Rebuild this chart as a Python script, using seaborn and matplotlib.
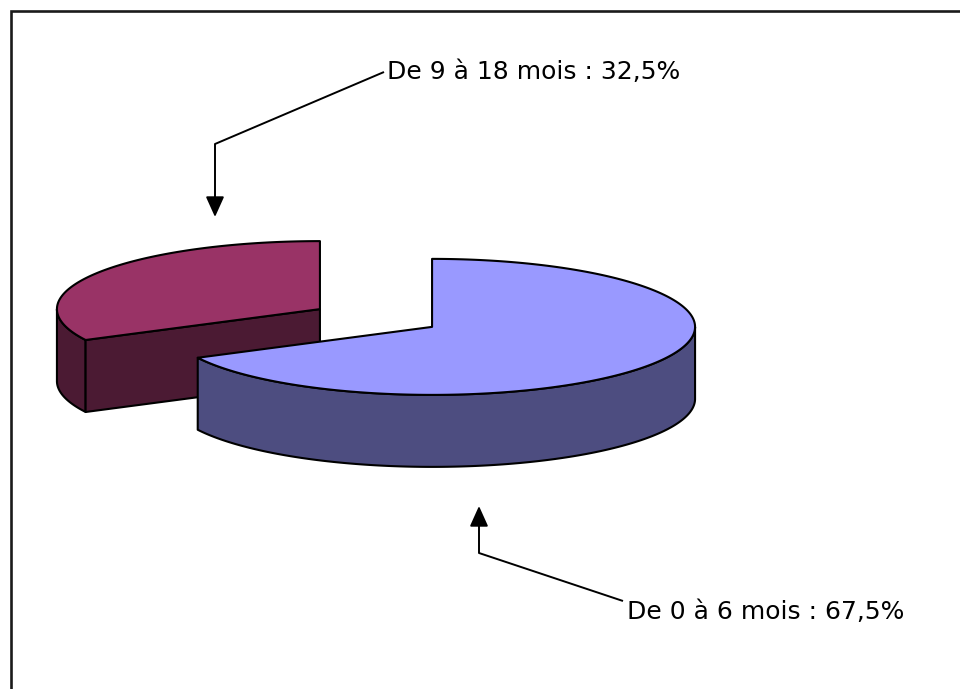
import numpy as np
import matplotlib
matplotlib.use("Agg")
import matplotlib.pyplot as plt
from matplotlib.patches import Polygon, FancyArrowPatch
import seaborn as sns

# Chart data
categories = ["De 0 à 6 mois", "De 9 à 18 mois"]
values = [67.5, 32.5]
label_texts = ["De 0 à 6 mois : 67,5%", "De 9 à 18 mois : 32,5%"]

top_colors = ["#9999FF", "#993366"]
side_colors = ["#4D4D80", "#4B1A33"]

sns.set_theme(style="white")
plt.rcParams["font.family"] = ["DejaVu Sans"]

W, H, DPI = 960, 689, 100
fig = plt.figure(figsize=(W / DPI, H / DPI), dpi=DPI)
ax = fig.add_axes([0, 0, 1, 1])
ax.set_xlim(0, W)
ax.set_ylim(H, 0)
ax.axis("off")

# outer frame (only top and left edges fall inside the canvas)
ax.plot([11, 11, W + 5], [H + 5, 11, 11], color="#1a1a1a", lw=1.9,
        solid_joinstyle="miter", zorder=1)

# 3-D pie geometry (pixel space)
cx, cy = 376, 318        # pie centre
rx, ry = 263, 68         # ellipse radii of the top face
depth = 72               # thickness
explode = 0.25
edge = dict(edgecolor="black", linewidth=1.5, joinstyle="round")


def rim(x0, y0, t, dz=0.0):
    return x0 + rx * np.cos(t), y0 - ry * np.sin(t) + dz


# slices run clockwise from 12 o'clock
total = float(sum(values))
start = np.pi / 2
slices = []
for v in values:
    sweep = 2 * np.pi * v / total
    a_end = start            # counter-clockwise end
    a_start = start - sweep  # counter-clockwise start
    mid = (a_start + a_end) / 2
    ox = cx + explode * rx * np.cos(mid)
    oy = cy - explode * ry * np.sin(mid)
    slices.append((a_start, a_end, ox, oy))
    start -= sweep


def draw_slice(i, zbase):
    a0, a1, ox, oy = slices[i]
    top_c, side_c = top_colors[i], side_colors[i]

    # outer wall: parts of the arc facing the viewer (lower half of ellipse)
    ts = np.linspace(a0, a1, 400)
    front = np.sin(ts) <= 0
    runs, cur = [], []
    for t, f in zip(ts, front):
        if f:
            cur.append(t)
        elif cur:
            runs.append(cur)
            cur = []
    if cur:
        runs.append(cur)
    for run in runs:
        run = np.array(run)
        xt, yt = rim(ox, oy, run)
        xb, yb = rim(ox, oy, run[::-1], depth)
        pts = np.column_stack([np.r_[xt, xb], np.r_[yt, yb]])
        ax.add_patch(Polygon(pts, closed=True, facecolor=side_c, zorder=zbase, **edge))

    # radial cut faces that look toward the viewer
    for a, normal in ((a0, a0 - np.pi / 2), (a1, a1 + np.pi / 2)):
        if np.sin(normal) < -1e-6:
            xr, yr = rim(ox, oy, a)
            pts = [(ox, oy), (xr, yr), (xr, yr + depth), (ox, oy + depth)]
            ax.add_patch(Polygon(pts, closed=True, facecolor=side_c, zorder=zbase + 0.5, **edge))

    # top face
    ts = np.linspace(a0, a1, 400)
    xt, yt = rim(ox, oy, ts)
    pts = np.column_stack([np.r_[ox, xt], np.r_[oy, yt]])
    ax.add_patch(Polygon(pts, closed=True, facecolor=top_c, zorder=zbase + 1, **edge))


# back slice first, then the front one
draw_slice(1, 2)
draw_slice(0, 5)

# callouts: text, leader segment, arrow
callouts = [
    # (text index, text pos, leader start, elbow, arrow tip)
    (1, (387, 79), (384, 72), (215, 144), (215, 217)),
    (0, (627, 619), (623, 601), (479, 553), (479, 506)),
]
for idx, tpos, p0, p1, tip in callouts:
    ax.text(tpos[0], tpos[1], label_texts[idx], fontsize=18, color="black",
            ha="left", va="baseline", zorder=10)
    ax.plot([p0[0], p1[0]], [p0[1], p1[1]], color="black", lw=1.4,
            solid_capstyle="butt", zorder=10)
    ax.add_patch(FancyArrowPatch(p1, tip, arrowstyle="-|>,head_length=1.0,head_width=0.45",
                                 mutation_scale=12.5, color="black", lw=1.4,
                                 shrinkA=0, shrinkB=0, zorder=10))

fig.savefig("out.png", dpi=DPI, facecolor="white")
